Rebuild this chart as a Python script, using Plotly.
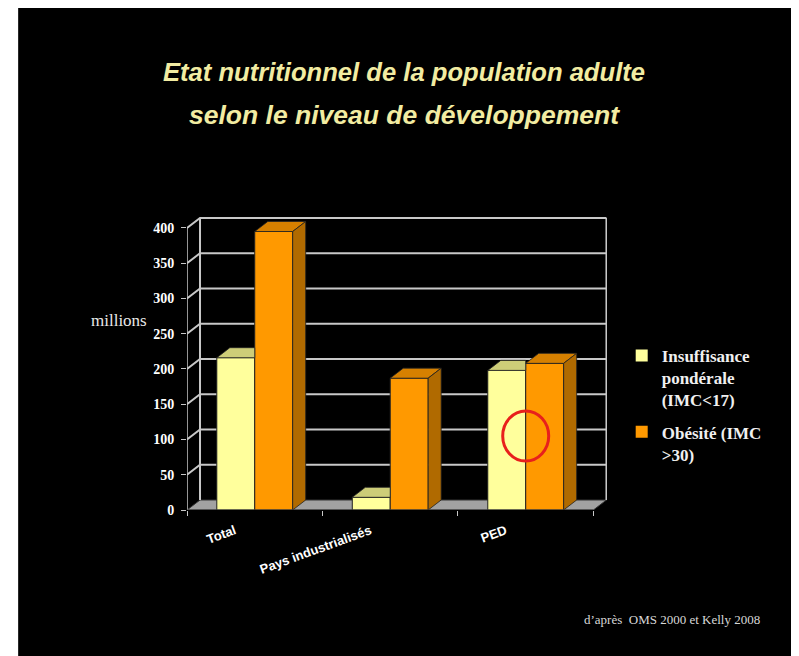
import plotly.graph_objects as go

# ---- data ----
categories = ["Total", "Pays industrialisés", "PED"]
insuffisance = [216, 18, 198]      # millions, IMC<17
obesite = [395, 187, 208]          # millions, IMC>30
y_ticks = [0, 50, 100, 150, 200, 250, 300, 350, 400]
series_names = ["Insuffisance<br>pondérale<br>(IMC<17)", "Obésité (IMC<br>>30)"]
highlight_value = 105

# ---- style ----
BAR_W = 0.28
DX = 0.096      # 3D depth in x units
DY = 14.2       # 3D depth in y units
Y_MAX = 417
col_ins = ["#ffff9c", "#cdcd78"]
col_ob = ["#ff9900", "#d68000", "#b06a00"]
grid_col = "#c8c8c8"

xs = list(range(len(categories)))
fig = go.Figure()

# front faces
fig.add_trace(go.Bar(x=xs, y=insuffisance, width=BAR_W, offset=-BAR_W,
                     marker=dict(color=col_ins[0], line=dict(color="#222", width=1)),
                     showlegend=False, hoverinfo="skip"))
fig.add_trace(go.Bar(x=xs, y=obesite, width=BAR_W, offset=0,
                     marker=dict(color=col_ob[0], line=dict(color="#222", width=1)),
                     showlegend=False, hoverinfo="skip"))

def poly(px, py, color):
    fig.add_trace(go.Scatter(x=px + [px[0]], y=py + [py[0]], mode="lines", fill="toself",
                             fillcolor=color, line=dict(color="#222", width=0.8),
                             showlegend=False, hoverinfo="skip"))

for i, (vi, vo) in enumerate(zip(insuffisance, obesite)):
    x0, x1 = i - BAR_W, i
    poly([x0, x1, x1, x0 + DX], [vi, vi, vi + DY, vi + DY], col_ins[1])
    x0, x1 = i, i + BAR_W
    poly([x0, x1, x1 + DX, x0 + DX], [vo, vo, vo + DY, vo + DY], col_ob[1])
    poly([x1, x1 + DX, x1 + DX, x1], [0, DY, vo + DY, vo], col_ob[2])

# legend entries
fig.add_trace(go.Scatter(x=[None], y=[None], mode="markers", name=series_names[0],
                         legendgroup="ins",
                         marker=dict(symbol="square", size=8, color=col_ins[0])))
fig.add_trace(go.Scatter(x=[None], y=[None], mode="markers", name=series_names[1],
                         legendgroup="ob",
                         marker=dict(symbol="square", size=8, color=col_ob[0])))

shapes = []
shapes.append(dict(type="rect", xref="paper", yref="paper", x0=-0.402, x1=1.45,
                   y0=-0.6, y1=1.711, fillcolor="black", line=dict(width=0), layer="below"))
xl, xr = -0.5, len(categories) - 0.5
shapes.append(dict(type="path", layer="below",
                   path=f"M {xl},0 L {xr},0 L {xr+DX},{DY} L {xl+DX},{DY} Z",
                   fillcolor="#a2a2a2", line=dict(color="#333", width=1)))
for v in y_ticks[1:]:
    shapes.append(dict(type="path", layer="below",
                       path=f"M {xl},{v} L {xl+DX},{v+DY} L {xr+DX},{v+DY}",
                       line=dict(color=grid_col, width=2)))
for xv in (xl + DX, xr + DX):
    shapes.append(dict(type="line", layer="below", x0=xv, x1=xv, y0=DY, y1=y_ticks[-1] + DY,
                       line=dict(color=grid_col, width=2)))
shapes.append(dict(type="line", x0=xl, x1=xl, y0=0, y1=y_ticks[-1], layer="below",
                   line=dict(color=grid_col, width=1.5)))
shapes.append(dict(type="line", x0=xl, x1=xr, y0=0, y1=0, layer="above",
                   line=dict(color="#444", width=1)))
shapes.append(dict(type="circle", xref="x", yref="y", xsizemode="pixel", ysizemode="pixel",
                   xanchor=len(categories) - 1, yanchor=highlight_value,
                   x0=-23, x1=23, y0=-25, y1=25, layer="above",
                   line=dict(color="#e8201c", width=3)))

title_col = "#f2eca2"
annotations = [
    dict(text="<b><i>Etat nutritionnel de la population adulte</i></b>", xref="paper", yref="paper",
         x=0.517, y=1.490, showarrow=False, xanchor="center", yanchor="middle",
         font=dict(family="Liberation Sans, Arial", size=25.6, color=title_col)),
    dict(text="<b><i>selon le niveau de développement</i></b>", xref="paper", yref="paper",
         x=0.517, y=1.3435, showarrow=False, xanchor="center", yanchor="middle",
         font=dict(family="Liberation Sans, Arial", size=26.5, color=title_col)),
    dict(text="millions", xref="paper", yref="paper", x=-0.162, y=0.643, showarrow=False,
         xanchor="center", yanchor="middle",
         font=dict(family="Liberation Serif, Times New Roman", size=17, color="#e8e8e8")),
    dict(text="d’après  OMS 2000 et Kelly 2008", xref="paper", yref="paper", x=1.155, y=-0.374,
         showarrow=False, xanchor="center", yanchor="middle",
         font=dict(family="Liberation Serif, Times New Roman", size=13, color="#d8d8d8")),
]

fig.update_layout(
    width=791, height=648,
    margin=dict(l=179, r=192, t=208, b=146),
    paper_bgcolor="white", plot_bgcolor="black",
    barmode="overlay",
    shapes=shapes, annotations=annotations,
    legend=dict(x=1.035, y=0.585, xanchor="left", yanchor="top", valign="top",
                bgcolor="rgba(0,0,0,0)", tracegroupgap=7, itemsizing="constant",
                font=dict(family="Liberation Serif, Times New Roman", size=17,
                          color="#f0f0f0", weight="bold")),
    xaxis=dict(range=[xl, xr + DX + 0.004], tickvals=xs, ticktext=categories, tickangle=-20,
               ticks="", showgrid=False, zeroline=False, showline=False, ticklabelshift=-20,
               ticklabelstandoff=10,
               tickfont=dict(family="Liberation Sans Narrow, Liberation Sans, Arial", size=13,
                             color="white", weight="bold"),
               minor=dict(tickmode="array", tickvals=[x - 0.5 for x in range(len(categories) + 1)],
                          ticks="outside", ticklen=5, tickcolor=grid_col, showgrid=False)),
    yaxis=dict(range=[0, Y_MAX], tickvals=y_ticks, ticks="outside", ticklen=5, tickcolor=grid_col,
               showgrid=False, zeroline=False, showline=False, ticklabelstandoff=4,
               tickfont=dict(family="Liberation Serif, Times New Roman", size=14,
                             color="white", weight="bold")),
)

fig.write_html("out.html")
